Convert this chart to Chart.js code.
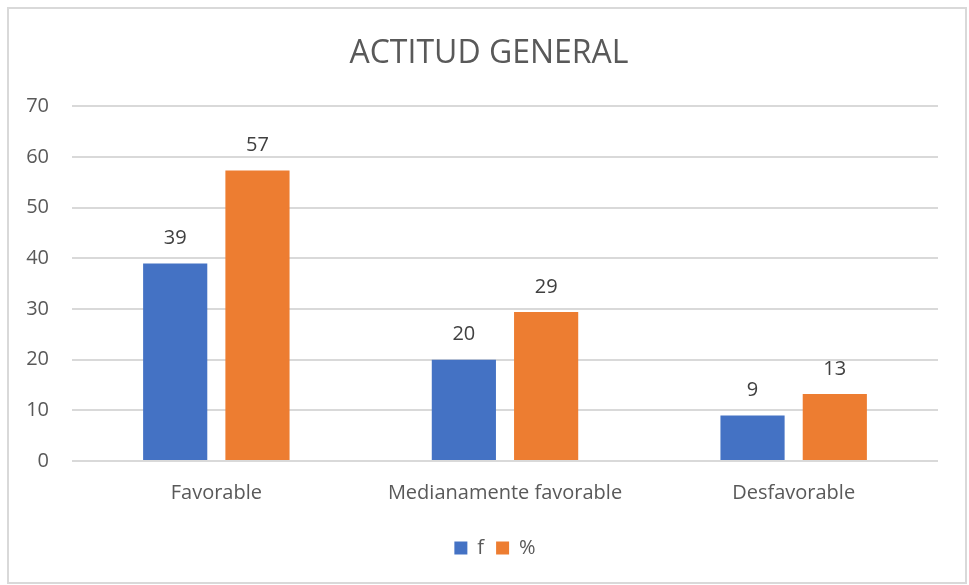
<!DOCTYPE html>
<html>
<head>
<meta charset="utf-8">
<script src="https://cdn.jsdelivr.net/npm/chart.js@4.4.0/dist/chart.umd.min.js"></script>
<style>
    html, body { margin: 0; padding: 0; background: #ffffff; }
    #wrap { width: 969px; height: 585px; }
</style>
</head>
<body>
<div id="wrap"><canvas id="actitudChart" width="969" height="585"></canvas></div>
<script>
// Chart data
const categories = ['Favorable', 'Medianamente favorable', 'Desfavorable'];
const frecuencia = [39, 20, 9];
const porcentaje = [57.35, 29.41, 13.24];
const seriesNames = ['f', '%'];
const yMin = 0;
const yMax = 70;
const yStep = 10;

const FONT = "'Open Sans', sans-serif";
const TEXT_COLOR = '#595959';

// Light grey frame around the whole chart
const framePlugin = {
    id: 'frame',
    beforeDraw(chart) {
        const ctx = chart.ctx;
        ctx.save();
        ctx.fillStyle = '#ffffff';
        ctx.fillRect(0, 0, chart.width, chart.height);
        ctx.strokeStyle = '#d9d9d9';
        ctx.lineWidth = 2;
        ctx.strokeRect(8, 8, 958, 575);
        ctx.restore();
    }
};

// Title and legend sit a bit right of the canvas centre, like the original
const centreShift = {
    id: 'centreShift',
    afterLayout(chart) {
        if (chart.titleBlock) {
            chart.titleBlock.left += 20;
            chart.titleBlock.right += 20;
        }
        if (chart.legend) {
            chart.legend.left += 26;
            chart.legend.right += 26;
        }
    }
};

// Value labels above each bar
const valueLabels = {
    id: 'valueLabels',
    afterDatasetsDraw(chart) {
        const ctx = chart.ctx;
        ctx.save();
        ctx.font = '20px ' + FONT;
        ctx.fillStyle = '#404040';
        ctx.textAlign = 'center';
        ctx.textBaseline = 'middle';
        chart.data.datasets.forEach((ds, i) => {
            chart.getDatasetMeta(i).data.forEach((bar, j) => {
                ctx.fillText(Math.round(ds.data[j]), bar.x, bar.y - 25);
            });
        });
        ctx.restore();
    }
};

const ctx = document.getElementById('actitudChart').getContext('2d');

new Chart(ctx, {
    type: 'bar',
    data: {
        labels: categories,
        datasets: [
            {
                label: seriesNames[0],
                data: frecuencia,
                backgroundColor: '#4472c4',
                barPercentage: 0.78,
                categoryPercentage: 0.57
            },
            {
                label: seriesNames[1],
                data: porcentaje,
                backgroundColor: '#ed7d31',
                barPercentage: 0.78,
                categoryPercentage: 0.57
            }
        ]
    },
    options: {
        responsive: false,
        animation: false,
        layout: {
            padding: { left: 0, right: 31, top: 0, bottom: 17 }
        },
        scales: {
            x: {
                grid: { display: false },
                border: { display: false },
                ticks: {
                    color: TEXT_COLOR,
                    font: { family: FONT, size: 20 },
                    padding: 12,
                    maxRotation: 0
                },
                afterFit(scale) {
                    // extra gap between category labels and legend
                    scale.height += 9;
                }
            },
            y: {
                min: yMin,
                max: yMax,
                grid: { color: '#d9d9d9', lineWidth: 2, drawTicks: false },
                border: { display: false },
                ticks: {
                    stepSize: yStep,
                    color: TEXT_COLOR,
                    font: { family: FONT, size: 20 },
                    padding: 23
                },
                afterFit(scale) {
                    scale.width = 72;
                }
            }
        },
        plugins: {
            title: {
                display: true,
                text: 'ACTITUD GENERAL',
                color: TEXT_COLOR,
                font: { family: FONT, size: 32, weight: 'normal' },
                padding: { top: 35, bottom: 33 }
            },
            legend: {
                position: 'bottom',
                labels: {
                    color: TEXT_COLOR,
                    font: { family: FONT, size: 20 },
                    boxWidth: 13,
                    boxHeight: 13,
                    padding: 12
                }
            },
            tooltip: { enabled: false }
        }
    },
    plugins: [framePlugin, centreShift, valueLabels]
});
</script>
</body>
</html>
